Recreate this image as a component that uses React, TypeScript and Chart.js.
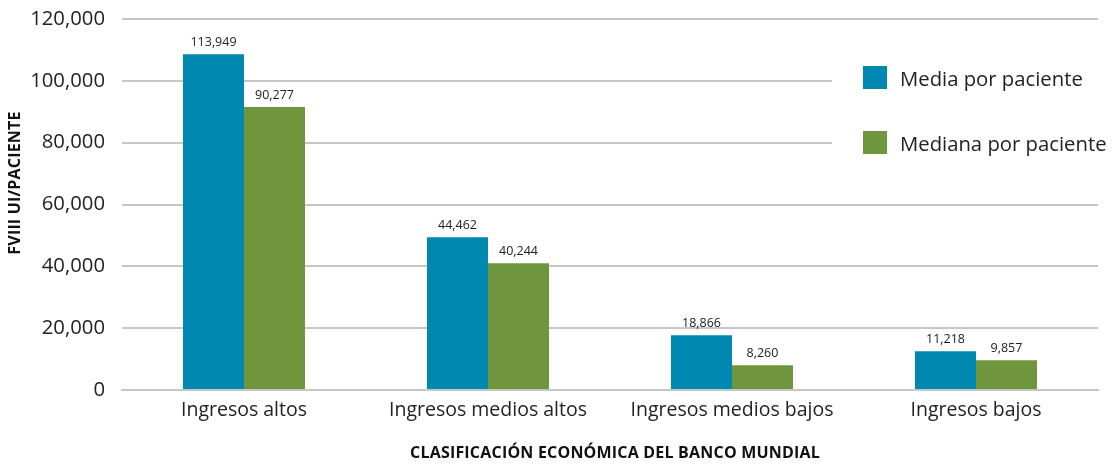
import React, { useEffect, useRef } from "react";
import { Chart, registerables } from "chart.js";

Chart.register(...registerables);

const categories = ["Ingresos altos", "Ingresos medios altos", "Ingresos medios bajos", "Ingresos bajos"];
const seriesNames = ["Media por paciente", "Mediana por paciente"];
const mediaValues = [108600, 49400, 17700, 12500];
const medianaValues = [91500, 41000, 8000, 9600];
const mediaLabels = ["113,949", "44,462", "18,866", "11,218"];
const medianaLabels = ["90,277", "40,244", "8,260", "9,857"];
const yTicks = [0, 20000, 40000, 60000, 80000, 100000, 120000];
const xTitle = "CLASIFICACIÓN ECONÓMICA DEL BANCO MUNDIAL";
const yTitle = "FVIII UI/PACIENTE";

const BLUE = "#0089B0";
const GREEN = "#6F963D";
const TEXT = "#222222";
const GRID = "#c6c6c6";
const FONT = "'Open Sans', sans-serif";

export default function App() {
  const ref = useRef<HTMLCanvasElement | null>(null);
  useEffect(() => {
    document.body.style.margin = "0";
    const canvas = ref.current;
    if (!canvas) return;
    const labelsBySet = [mediaLabels, medianaLabels];
    const overlay = {
      id: "overlay",
      afterDatasetsDraw(chart: any) {
        const ctx = chart.ctx;
        ctx.save();
        ctx.fillStyle = TEXT;
        ctx.font = `12.5px ${FONT}`;
        ctx.textAlign = "center";
        ctx.textBaseline = "middle";
        chart.data.datasets.forEach((_: any, di: number) => {
          const meta = chart.getDatasetMeta(di);
          meta.data.forEach((el: any, i: number) => {
            ctx.fillText(labelsBySet[di][i], el.x, el.y - 12);
          });
        });
        // legend box
        ctx.fillStyle = "#ffffff";
        ctx.fillRect(832, 45, 281, 130);
        const colors = [BLUE, GREEN];
        const ys = [78, 143];
        seriesNames.forEach((n, i) => {
          ctx.fillStyle = colors[i];
          ctx.fillRect(863, ys[i] - 12, 24, 23);
          ctx.fillStyle = TEXT;
          ctx.font = `20.3px ${FONT}`;
          ctx.textAlign = "left";
          ctx.textBaseline = "middle";
          ctx.fillText(n, 900, ys[i] + 2);
        });
        // axis titles
        ctx.font = `bold 16px ${FONT}`;
        (ctx as any).letterSpacing = "0.2px";
        ctx.textAlign = "center";
        ctx.textBaseline = "middle";
        ctx.fillStyle = "#111111";
        ctx.fillText(xTitle, 615, 453);
        ctx.translate(15, 183);
        ctx.rotate(-Math.PI / 2);
        ctx.fillText(yTitle, 0, 0);
        ctx.restore();
      },
    };
    const chart = new Chart(canvas, {
      type: "bar",
      data: {
        labels: categories,
        datasets: [
          { label: seriesNames[0], data: mediaValues, backgroundColor: BLUE, categoryPercentage: 0.5, barPercentage: 1.0 },
          { label: seriesNames[1], data: medianaValues, backgroundColor: GREEN, categoryPercentage: 0.5, barPercentage: 1.0 },
        ],
      },
      options: {
        responsive: false,
        animation: false,
        layout: { padding: { top: 19, right: 15, left: 0, bottom: 0 } },
        plugins: { legend: { display: false }, tooltip: { enabled: false } },
        scales: {
          x: {
            grid: { display: false, drawTicks: false },
            border: { color: GRID, width: 2 },
            ticks: { color: TEXT, font: { family: FONT, size: 19.5 }, padding: 9 },
            afterFit: (s: any) => { s.height = 74; s.paddingLeft = 0; s.paddingRight = 0; },
          },
          y: {
            min: 0,
            max: 120000,
            afterBuildTicks: (s: any) => { s.ticks = yTicks.map((v) => ({ value: v })); },
            grid: { color: GRID, lineWidth: 2, drawTicks: false },
            border: { display: false },
            ticks: {
              color: TEXT,
              font: { family: FONT, size: 20.3 },
              padding: 17,
              callback: (v: any) => Number(v).toLocaleString("en-US"),
            },
            afterFit: (s: any) => { s.width = 122; s.paddingTop = 0; s.paddingBottom = 0; },
          },
        },
      },
      plugins: [overlay],
    });
    return () => chart.destroy();
  }, []);
  return (
    <div style={{ width: 1113, height: 464 }}>
      <canvas ref={ref} width={1113} height={464} style={{ display: "block" }} />
    </div>
  );
}
